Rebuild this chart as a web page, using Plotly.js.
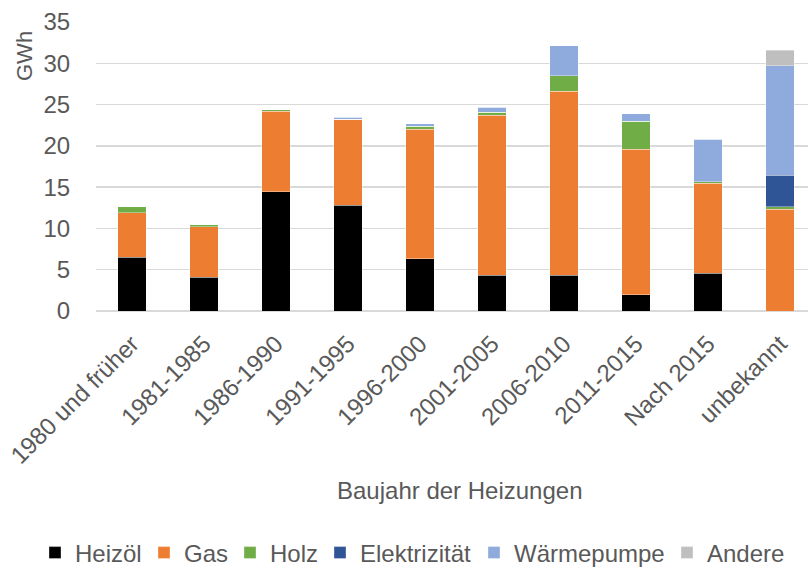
<!DOCTYPE html>
<html>
<head>
<meta charset="utf-8">
<script src="https://cdn.plot.ly/plotly-3.0.1.min.js"></script>
<style>html,body{margin:0;padding:0;background:#fff;}#chart{width:808px;height:568px;}</style>
</head>
<body>
<div id="chart"></div>
<script>
const categories = ["1980 und früher","1981-1985","1986-1990","1991-1995","1996-2000","2001-2005","2006-2010","2011-2015","Nach 2015","unbekannt"];
const heizoel      = [6.5, 4.1, 14.45, 12.8, 6.3, 4.35, 4.35, 1.95, 4.6, 0];
const gas          = [5.4, 6.1, 9.75, 10.4, 15.7, 19.35, 22.25, 17.65, 10.85, 12.35];
const holz         = [0.7, 0.25, 0.2, 0.05, 0.35, 0.4, 1.9, 3.4, 0.2, 0.25];
const elektrizitaet= [0, 0, 0, 0, 0, 0, 0, 0, 0, 3.85];
const waermepumpe  = [0, 0, 0, 0.2, 0.35, 0.55, 3.65, 0.9, 5.15, 13.25];
const andere       = [0, 0, 0, 0, 0, 0, 0, 0, 0, 1.9];
const seriesNames  = ["Heizöl","Gas","Holz","Elektrizität","Wärmepumpe","Andere"];
const seriesColors = ["#000000","#ED7D31","#70AD47","#2F5597","#8FAADC","#BFBFBF"];
const yTicks = [0,5,10,15,20,25,30,35];

const FS = 24;
const TXT = '#595959';
const allSeries = [heizoel, gas, holz, elektrizitaet, waermepumpe, andere];
const legendIds = ['legend','legend2','legend3','legend4','legend5','legend6'];
const traces = allSeries.map((vals, i) => ({
  type: 'bar',
  name: seriesNames[i],
  x: categories,
  y: vals,
  legend: legendIds[i],
  marker: {color: seriesColors[i], line: {color: 'rgba(255,255,255,0.6)', width: 0.6}},
  hoverinfo: 'x+y+name'
}));

const layout = {
  width: 808, height: 568,
  margin: {l: 96, r: 0, t: 22, b: 257, pad: 0},
  barmode: 'stack',
  bargap: 0.6,
  paper_bgcolor: '#fff',
  plot_bgcolor: '#fff',
  font: {family: 'Liberation Sans, Arial, sans-serif', color: TXT, size: FS},
  showlegend: true,
  xaxis: {
    type: 'category',
    range: [-0.5, 9.39],
    tickangle: -45,
    showgrid: false,
    showline: false,
    zeroline: false,
    ticks: '',
    ticklabelstandoff: 13,
    tickfont: {size: FS, color: TXT},
    fixedrange: true
  },
  yaxis: {
    range: [0, 35],
    tickvals: yTicks,
    showgrid: true,
    gridcolor: '#D9D9D9',
    gridwidth: 1.3,
    zeroline: true,
    zerolinecolor: '#D9D9D9',
    zerolinewidth: 1.3,
    showline: false,
    ticks: 'outside',
    ticklen: 20,
    tickcolor: 'rgba(0,0,0,0)',
    tickfont: {size: FS, color: TXT},
    fixedrange: true
  },
  annotations: [
    {text: 'GWh', textangle: -90, x: 0, xref: 'paper', y: 0, yref: 'paper', xanchor: 'center', yanchor: 'middle', showarrow: false, font: {size: 22, color: TXT}},
    {text: 'Baujahr der Heizungen', x: 0.5, xref: 'paper', y: 0, yref: 'paper', xanchor: 'center', yanchor: 'middle', showarrow: false, font: {size: FS, color: TXT}}
  ]
};
const plotH = 568 - 22 - 257, plotW = 808 - 96;
layout.annotations[0].x = (24 - 96) / plotW;
layout.annotations[0].y = (311 - 56) / plotH;
layout.annotations[1].x = (460 - 96) / plotW;
layout.annotations[1].y = (311 - 490) / plotH;

// legend text start positions (px)
const legendTextX = [73, 182, 268, 358, 512, 705];
legendIds.forEach((id, i) => {
  layout[id] = {
    orientation: 'h', xref: 'container', yref: 'container',
    x: (legendTextX[i] - 38) / 808, xanchor: 'left',
    y: (568 - 553) / 568, yanchor: 'middle',
    font: {size: FS, color: TXT}, itemwidth: 30, bgcolor: 'rgba(0,0,0,0)'
  };
});

Plotly.newPlot('chart', traces, layout, {displayModeBar: false, staticPlot: true});
</script>
</body>
</html>
